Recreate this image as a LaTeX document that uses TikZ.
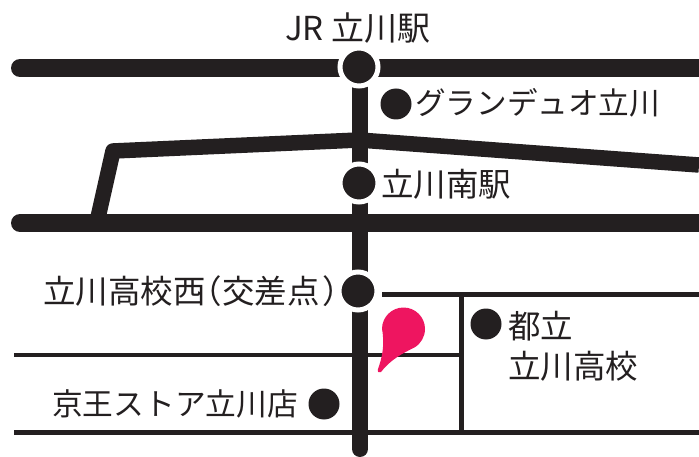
\documentclass[tikz,border=0pt]{standalone}
\usepackage{fontspec}
\setmainfont{Noto Sans CJK JP}
\definecolor{ink}{HTML}{231F20}
\definecolor{pinkpin}{HTML}{EE1560}
\tikzset{
  x=1pt,y=-1pt,
  railway/.style={draw=ink,line width=18pt,line cap=round},
  mainroad/.style={draw=ink,line width=16pt,line cap=round},
  sideroad/.style={draw=ink,line width=15.5pt,line join=round},
  thinroad/.style={draw=ink,line width=5pt},
  stopdot/.style={circle,fill=ink,draw=white,line width=5pt,minimum size=38pt,inner sep=0pt},
  placedot/.style={circle,fill=ink,minimum size=31pt,inner sep=0pt},
  lbl/.style={text=ink,inner sep=0pt,anchor=west},
}
\newcommand{\fsz}[1]{\fontsize{#1}{#1}\selectfont}
\begin{document}
\begin{tikzpicture}
\useasboundingbox (0,0) rectangle (699,457);
\fill[white] (0,0) rectangle (699,457);
\coordinate (topL) at (20,68); \coordinate (topR) at (699,68);
\coordinate (midL) at (20,223); \coordinate (midR) at (699,223);
\coordinate (vT) at (360,70); \coordinate (vB) at (360,449);
\coordinate (sA) at (97,222); \coordinate (sB) at (113,151); \coordinate (sC) at (359,140); \coordinate (sD) at (699,165);
\coordinate (t1L) at (382,294); \coordinate (t1R) at (699,294);
\coordinate (t2L) at (14,355); \coordinate (t2R) at (461,355);
\coordinate (t3L) at (14,432); \coordinate (t3R) at (699,432);
\coordinate (vtT) at (461,294); \coordinate (vtB) at (461,432);
\draw[thinroad] (t1L) -- (t1R);
\draw[thinroad,line width=4pt] (t2L) -- (t2R);
\draw[thinroad] (t3L) -- (t3R);
\draw[thinroad] (vtT) -- (vtB);
\draw[railway] (topL) -- (topR);
\draw[sideroad] (sA) -- (sB) -- (sC) -- (sD);
\draw[railway] (midL) -- (midR);
\draw[mainroad] (vT) -- (vB);
\node[stopdot] (jr) at (359,67) {};
\node[stopdot] (south) at (359,183) {};
\node[stopdot] (west) at (358,291) {};
\node[placedot] (gd) at (396,104) {};
\node[placedot] (hs) at (486,324) {};
\node[placedot] (ko) at (324,404) {};
\fill[pinkpin] (382,329) arc[start angle=180,end angle=-60,radius=21.5pt]
  .. controls (403,353) and (390,360) .. (381,372)
  .. controls (379,373) and (377,372) .. (378,369)
  .. controls (382,358) and (385,345) .. (382,329) -- cycle;
\node[lbl,font=\fsz{33}] (t1) at (285,28) {JR 立川駅};
\node[lbl,font=\fsz{30.6}] (t2) at (415,103) {グランデュオ立川};
\node[lbl,font=\fsz{32.5}] (t3) at (381,184) {立川南駅};
\node[lbl,font=\fsz{32.5}] (t4) at (43,291) {立川高校西\kern-16pt（交差点\kern3pt）};
\node[lbl,font=\fsz{32.5}] (t5) at (508,326) {都立};
\node[lbl,font=\fsz{32.5}] (t6) at (508,366) {立川高校};
\node[lbl,font=\fsz{30.7}] (t7) at (52,404) {京王ストア立川店};
\end{tikzpicture}
\end{document}
